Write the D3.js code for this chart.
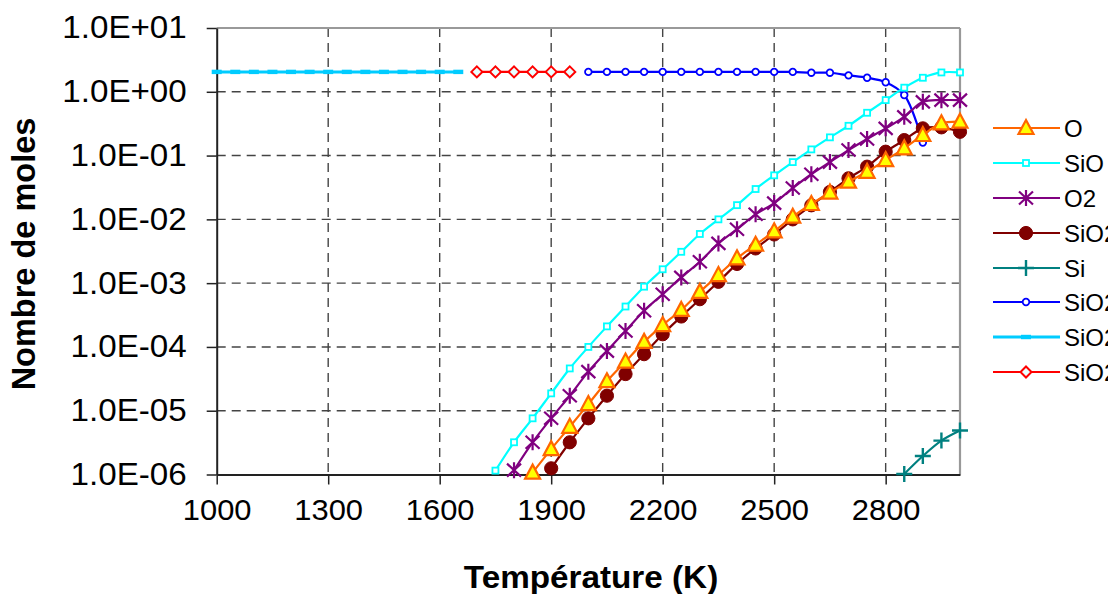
<!DOCTYPE html>
<html>
<head>
<meta charset="utf-8">
<script src="https://cdn.jsdelivr.net/npm/d3@7"></script>
<style>
  html, body { margin: 0; padding: 0; background: #fff; }
  svg { display: block; font-family: "Liberation Sans", Arial, sans-serif; }
</style>
</head>
<body>
<svg id="chart" width="1108" height="594"></svg>
<script>
// ---------------- data ----------------
const xTicks = [1000, 1300, 1600, 1900, 2200, 2500, 2800];
const yTicks = [1e1, 1e0, 1e-1, 1e-2, 1e-3, 1e-4, 1e-5, 1e-6];
const yTickLabels = ["1.0E+01", "1.0E+00", "1.0E-01", "1.0E-02", "1.0E-03", "1.0E-04", "1.0E-05", "1.0E-06"];

const T_O = [1850,1900,1950,2000,2050,2100,2150,2200,2250,2300,2350,2400,2450,2500,2550,2600,2650,2700,2750,2800,2850,2900,2950,3000];
const V_O = [1.07e-6,2.5e-6,5.6e-6,1.27e-5,2.9e-5,5.9e-5,1.2e-4,2.2e-4,3.8e-4,7.3e-4,1.34e-3,2.45e-3,4.0e-3,6.5e-3,0.011,0.0174,0.0263,0.039,0.0557,0.085,0.13,0.21,0.32,0.34];

const T_SiO = [1750,1800,1850,1900,1950,2000,2050,2100,2150,2200,2250,2300,2350,2400,2450,2500,2550,2600,2650,2700,2750,2800,2850,2900,2950,3000];
const V_SiO = [1.15e-6,3.2e-6,7.6e-6,1.87e-5,4.6e-5,1.0e-4,2.1e-4,4.3e-4,8.8e-4,1.65e-3,3.1e-3,5.9e-3,1.0e-2,1.67e-2,2.99e-2,4.9e-2,7.9e-2,0.125,0.193,0.293,0.469,0.741,1.16,1.66,2.01,2.01];

const T_O2 = [1800,1850,1900,1950,2000,2050,2100,2150,2200,2250,2300,2350,2400,2450,2500,2550,2600,2650,2700,2750,2800,2850,2900,2950,3000];
const V_O2 = [1.17e-6,3.2e-6,7.6e-6,1.72e-5,4.1e-5,8.6e-5,1.78e-4,3.7e-4,6.7e-4,1.23e-3,2.16e-3,4.2e-3,7.0e-3,1.2e-2,1.8e-2,0.031,0.051,0.079,0.122,0.182,0.267,0.405,0.696,0.74,0.74];

const T_SiO2g = [1900,1950,2000,2050,2100,2150,2200,2250,2300,2350,2400,2450,2500,2550,2600,2650,2700,2750,2800,2850,2900,2950,3000];
const V_SiO2g = [1.25e-6,3.2e-6,7.6e-6,1.72e-5,3.76e-5,7.7e-5,1.58e-4,3.0e-4,5.6e-4,1.05e-3,2.0e-3,3.5e-3,5.8e-3,0.01,0.0166,0.0269,0.044,0.067,0.115,0.175,0.267,0.277,0.236];

const T_Si = [2850,2900,2950,3000];
const V_Si = [1.02e-6,1.95e-6,3.4e-6,4.9e-6];

const T_SiO2l = [2000,2050,2100,2150,2200,2250,2300,2350,2400,2450,2500,2550,2600,2650,2700,2750,2800,2850,2900];
const V_SiO2l = [2.05,2.05,2.05,2.05,2.05,2.05,2.05,2.05,2.05,2.05,2.05,2.05,1.99,1.99,1.81,1.66,1.41,0.89,0.16];

const T_SiO2a = [1000,1050,1100,1150,1200,1250,1300,1350,1400,1450,1500,1550,1600,1650];
const V_SiO2a = [2.05,2.05,2.05,2.05,2.05,2.05,2.05,2.05,2.05,2.05,2.05,2.05,2.05,2.05];

const T_SiO2b = [1700,1750,1800,1850,1900,1950];
const V_SiO2b = [2.05,2.05,2.05,2.05,2.05,2.05];

const seriesNames = ["O", "SiO", "O2", "SiO2", "Si", "SiO2", "SiO2", "SiO2"];

// ---------------- styles ----------------
const styles = [
  {T: T_O,     V: V_O,     color: "#FF6600", marker: "triangle", fill: "#FFFF00", lw: 2.2},
  {T: T_SiO,   V: V_SiO,   color: "#00FFFF", marker: "square",   fill: "#FFFFFF", lw: 2.2},
  {T: T_O2,    V: V_O2,    color: "#800080", marker: "asterisk", fill: "none",    lw: 2.2},
  {T: T_SiO2g, V: V_SiO2g, color: "#800000", marker: "circle",   fill: "#800000", lw: 2.2},
  {T: T_Si,    V: V_Si,    color: "#008080", marker: "plus",     fill: "none",    lw: 2.2},
  {T: T_SiO2l, V: V_SiO2l, color: "#0000FF", marker: "ocircle",  fill: "#FFFFFF", lw: 2.2},
  {T: T_SiO2a, V: V_SiO2a, color: "#00CCFF", marker: "dash",     fill: "#00CCFF", lw: 3},
  {T: T_SiO2b, V: V_SiO2b, color: "#FF0000", marker: "diamond",  fill: "#E8FFFF", lw: 2.2}
];

// ---------------- layout ----------------
const svg = d3.select("#chart");
const L = 216.7, R = 960, Tp = 28, B = 474.5;
const x = d3.scaleLinear().domain([1000, 3000]).range([L, R]);
const y = d3.scaleLog().domain([1e-6, 10]).range([B, Tp]);

// grid
const grid = svg.append("g");
grid.selectAll("line.gx").data(xTicks.slice(1)).enter().append("line")
  .attr("x1", d => x(d)).attr("x2", d => x(d)).attr("y1", Tp).attr("y2", B)
  .attr("stroke", "#444").attr("stroke-width", 1.4).attr("stroke-dasharray", "9,6");
grid.selectAll("line.gy").data(yTicks.slice(1, -1)).enter().append("line")
  .attr("x1", L).attr("x2", R).attr("y1", d => y(d)).attr("y2", d => y(d))
  .attr("stroke", "#444").attr("stroke-width", 1.4).attr("stroke-dasharray", "9,6");

// frame (top and right gray)
svg.append("line").attr("x1", L).attr("x2", R).attr("y1", Tp).attr("y2", Tp)
  .attr("stroke", "#999").attr("stroke-width", 2.2);
svg.append("line").attr("x1", R).attr("x2", R).attr("y1", Tp).attr("y2", B)
  .attr("stroke", "#999").attr("stroke-width", 2.2);

// axes
const yAxis = d3.axisLeft(y).tickValues(yTicks).tickSize(10).tickSizeOuter(0)
  .tickFormat((d, i) => yTickLabels[i]).tickPadding(18);
const gy = svg.append("g").attr("transform", `translate(${L},0)`).call(yAxis);
gy.select(".domain").attr("stroke", "#222").attr("stroke-width", 2);
gy.selectAll(".tick line").attr("stroke", "#222").attr("stroke-width", 1.5);
gy.selectAll(".tick text").attr("font-size", 31).attr("fill", "#000")
  .attr("font-family", "Liberation Sans, Arial, sans-serif")
  .attr("transform", "scale(1.07,1)");

const xAxis = d3.axisBottom(x).tickValues(xTicks).tickSize(10).tickSizeOuter(0)
  .tickFormat(d3.format("d")).tickPadding(14);
const gx = svg.append("g").attr("transform", `translate(0,${B})`).call(xAxis);
gx.select(".domain").attr("stroke", "#222").attr("stroke-width", 2);
gx.selectAll(".tick line").attr("stroke", "#222").attr("stroke-width", 1.5);
gx.selectAll(".tick text").attr("font-size", 30).attr("fill", "#000")
  .attr("font-family", "Liberation Sans, Arial, sans-serif")
  .attr("transform", "scale(1.03,1)");

// titles
svg.append("text").attr("transform", "translate(591,588) scale(1.04,1)").attr("text-anchor", "middle")
  .attr("font-size", 32).attr("font-weight", "bold").text("Température (K)");
svg.append("text").attr("transform", "translate(35,254) rotate(-90)").attr("text-anchor", "middle")
  .attr("font-size", 32.5).attr("font-weight", "bold").text("Nombre de moles");

// markers
function drawMarker(g, type, color, fill) {
  switch (type) {
    case "triangle":
      g.append("path").attr("d", "M0,-8 L7.5,6 L-7.5,6 Z").attr("fill", fill).attr("stroke", color).attr("stroke-width", 2.2).attr("stroke-linejoin", "miter");
      break;
    case "square":
      g.append("rect").attr("x", -3).attr("y", -3).attr("width", 6).attr("height", 6).attr("fill", fill).attr("stroke", color).attr("stroke-width", 1.8);
      break;
    case "asterisk":
      g.append("path").attr("d", "M0,-8 L0,8 M-7,-6.5 L7,6.5 M-7,6.5 L7,-6.5").attr("stroke", color).attr("stroke-width", 2.2).attr("fill", "none");
      break;
    case "circle":
      g.append("circle").attr("r", 6.6).attr("fill", fill).attr("stroke", color).attr("stroke-width", 1);
      break;
    case "plus":
      g.append("path").attr("d", "M0,-8 L0,8 M-8,0 L8,0").attr("stroke", color).attr("stroke-width", 2.4).attr("fill", "none");
      break;
    case "ocircle":
      g.append("circle").attr("r", 3.3).attr("fill", fill).attr("stroke", color).attr("stroke-width", 1.8);
      break;
    case "dash":
      g.append("rect").attr("x", -5).attr("y", -2.2).attr("width", 10).attr("height", 4.4).attr("fill", fill);
      break;
    case "diamond":
      g.append("path").attr("d", "M0,-5.5 L5.5,0 L0,5.5 L-5.5,0 Z").attr("fill", fill).attr("stroke", color).attr("stroke-width", 2);
      break;
  }
}

svg.append("defs").append("clipPath").attr("id", "plotclip").append("rect")
  .attr("x", L).attr("y", Tp).attr("width", R - L).attr("height", B - Tp);

const lineGen = d3.line().x(d => x(d[0])).y(d => y(d[1])).curve(d3.curveCatmullRom.alpha(0.5));

// draw series in reverse so first series is on top
const order = [6, 7, 5, 4, 1, 2, 3, 0];
order.forEach(i => {
  const s = styles[i];
  const pts = s.T.map((t, k) => [t, s.V[k]]);
  const g = svg.append("g");
  g.append("path").attr("d", lineGen(pts)).attr("fill", "none").attr("stroke", s.color)
    .attr("stroke-width", s.lw).attr("clip-path", "url(#plotclip)");
  pts.forEach(p => {
    const mg = g.append("g").attr("transform", `translate(${x(p[0])},${y(p[1])})`);
    drawMarker(mg, s.marker, s.color, s.fill);
  });
});

// legend (labels run past the right edge, as in the original)
const legY = [128, 163, 198, 233, 268, 302, 337, 372];
const leg = svg.append("g");
styles.forEach((s, i) => {
  const g = leg.append("g").attr("transform", `translate(0,${legY[i]})`);
  g.append("line").attr("x1", 993).attr("x2", 1060).attr("y1", 0).attr("y2", 0)
    .attr("stroke", s.color).attr("stroke-width", s.lw === 3 ? 3 : 2);
  const mg = g.append("g").attr("transform", "translate(1026,0)");
  drawMarker(mg, s.marker, s.color, s.fill);
  g.append("text").attr("x", 1064).attr("y", 0).attr("dy", "0.36em")
    .attr("font-size", 24).attr("fill", "#000").text(seriesNames[i]);
});
</script>
</body>
</html>
